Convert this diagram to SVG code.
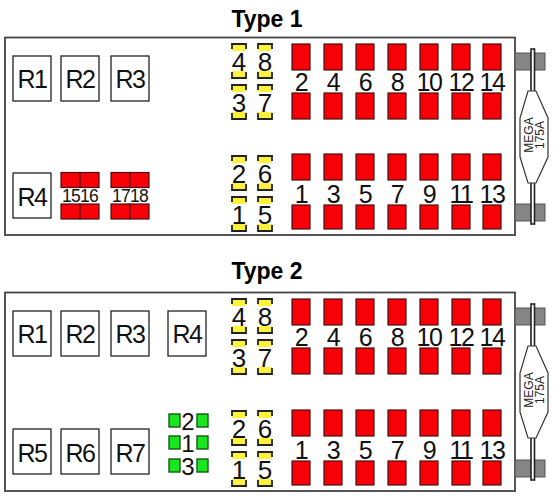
<svg xmlns="http://www.w3.org/2000/svg" width="555" height="498" viewBox="0 0 555 498">
<style>
text{font-family:"Liberation Sans",Arial,sans-serif;fill:#111;text-anchor:middle}
.title{font-size:23px;font-weight:bold;fill:#000}
.box{fill:#fff;stroke:#444;stroke-width:1.8}
.relay{fill:#fff;stroke:#222;stroke-width:1.3}
.rl{font-size:25px;letter-spacing:-1.5px}
.n{font-size:25px;letter-spacing:-1.5px}
.y{font-size:26px}
.s{font-size:17.5px;letter-spacing:-.8px}
.g{font-size:24px}
.red{fill:#f80008;stroke:#4a1010;stroke-width:1.2}
.grn{fill:#19e61e;stroke:#155a15;stroke-width:1.4}
.yel{fill:#fff23c}
.brk{fill:none;stroke:#222;stroke-width:1.8}
.gray{fill:#858585;stroke:#555;stroke-width:1}
.bar{fill:#fff;stroke:#222;stroke-width:1.6}
.body{fill:#fff;stroke:#333;stroke-width:1.2}
.m{font-size:12px;fill:#222}
</style>
<defs>
<rect id="r" class="red" width="18" height="26"/>
<rect id="r2" class="red" width="18" height="24"/>
<rect id="q" class="red" width="19" height="15"/>
<g id="yt"><rect class="yel" x="1" y="1" width="14" height="7"/><path class="brk" d="M1 6V1H15V6"/></g>
<g id="yb"><rect class="yel" x="1" y="0" width="14" height="7"/><path class="brk" d="M1 1V7H15V1"/></g>
<g id="yf"><use href="#yt"/><use href="#yb" y="28"/></g>
<g id="gr"><rect class="grn" x="0" y="0" width="11" height="13"/><rect class="grn" x="28" y="0" width="11" height="13"/></g>
<g id="mega"><rect class="gray" x="515" y="0" width="30" height="17"/></g>
</defs>

<g id="title-1"><text class="title" x="267" y="27">Type 1</text></g>
<g id="title-2"><text class="title" x="267" y="279">Type 2</text></g>

<g id="panel-1"><rect class="box" x="5" y="37.500" width="510" height="197.500"/></g>
<g id="panel-2"><rect class="box" x="5" y="292.500" width="510" height="198.500"/></g>

<g id="t1-R1"><rect class="relay" x="13" y="56" width="38" height="45"/><text class="rl" x="32" y="88">R1</text></g>
<g id="t1-R2"><rect class="relay" x="61" y="56" width="38" height="45"/><text class="rl" x="80" y="88">R2</text></g>
<g id="t1-R3"><rect class="relay" x="111" y="56" width="38" height="45"/><text class="rl" x="130" y="88">R3</text></g>
<g id="t1-R4"><rect class="relay" x="13" y="173" width="38" height="45"/><text class="rl" x="32" y="206">R4</text></g>

<g id="t1-f15-16"><use href="#q" x="61" y="172.500"/><use href="#q" x="80" y="172.500"/><use href="#q" x="61" y="204"/><use href="#q" x="80" y="204"/><text class="s" x="71" y="202">15</text><text class="s" x="89" y="202">16</text></g>
<g id="t1-f17-18"><use href="#q" x="111" y="172.500"/><use href="#q" x="130" y="172.500"/><use href="#q" x="111" y="204"/><use href="#q" x="130" y="204"/><text class="s" x="121" y="202">17</text><text class="s" x="139" y="202">18</text></g>

<g id="t1-y4"><use href="#yf" x="231" y="43"/><text class="y" x="239" y="71">4</text></g>
<g id="t1-y8"><use href="#yf" x="257" y="43"/><text class="y" x="265" y="71">8</text></g>
<g id="t1-y3"><use href="#yf" x="231" y="84"/><text class="y" x="239" y="112">3</text></g>
<g id="t1-y7"><use href="#yf" x="257" y="84"/><text class="y" x="265" y="112">7</text></g>
<g id="t1-y2"><use href="#yf" x="231" y="155"/><text class="y" x="239" y="183">2</text></g>
<g id="t1-y6"><use href="#yf" x="257" y="155"/><text class="y" x="265" y="183">6</text></g>
<g id="t1-y1"><use href="#yf" x="231" y="196"/><text class="y" x="239" y="224">1</text></g>
<g id="t1-y5"><use href="#yf" x="257" y="196"/><text class="y" x="265" y="224">5</text></g>

<g id="t1-f2"><use href="#r" x="292" y="44"/><use href="#r" x="292" y="93"/><text class="n" x="301" y="90.500">2</text></g>
<g id="t1-f4"><use href="#r" x="324" y="44"/><use href="#r" x="324" y="93"/><text class="n" x="333" y="90.500">4</text></g>
<g id="t1-f6"><use href="#r" x="356" y="44"/><use href="#r" x="356" y="93"/><text class="n" x="365" y="90.500">6</text></g>
<g id="t1-f8"><use href="#r" x="388" y="44"/><use href="#r" x="388" y="93"/><text class="n" x="397" y="90.500">8</text></g>
<g id="t1-f10"><use href="#r" x="420" y="44"/><use href="#r" x="420" y="93"/><text class="n" x="429" y="90.500">10</text></g>
<g id="t1-f12"><use href="#r" x="452" y="44"/><use href="#r" x="452" y="93"/><text class="n" x="461" y="90.500">12</text></g>
<g id="t1-f14"><use href="#r" x="483" y="44"/><use href="#r" x="483" y="93"/><text class="n" x="492" y="90.500">14</text></g>

<g id="t1-f1"><use href="#r" x="292" y="154"/><use href="#r2" x="292" y="205"/><text class="n" x="301" y="203">1</text></g>
<g id="t1-f3"><use href="#r" x="324" y="154"/><use href="#r2" x="324" y="205"/><text class="n" x="333" y="203">3</text></g>
<g id="t1-f5"><use href="#r" x="356" y="154"/><use href="#r2" x="356" y="205"/><text class="n" x="365" y="203">5</text></g>
<g id="t1-f7"><use href="#r" x="388" y="154"/><use href="#r2" x="388" y="205"/><text class="n" x="397" y="203">7</text></g>
<g id="t1-f9"><use href="#r" x="420" y="154"/><use href="#r2" x="420" y="205"/><text class="n" x="429" y="203">9</text></g>
<g id="t1-f11"><use href="#r" x="452" y="154"/><use href="#r2" x="452" y="205"/><text class="n" x="461" y="203">11</text></g>
<g id="t1-f13"><use href="#r" x="483" y="154"/><use href="#r2" x="483" y="205"/><text class="n" x="492" y="203">13</text></g>

<g id="t1-mega">
<use href="#mega" y="53"/><use href="#mega" y="204"/>
<rect class="bar" x="531" y="49" width="3.500" height="175"/>
<path class="body" d="M528 91H536L548 118V157L536 183H528L520 157V118Z"/>
<text class="m" transform="translate(532 135) rotate(-90)"><tspan x="0" y="1">MEGA</tspan><tspan x="0" y="12">175A</tspan></text>
</g>

<g id="t2-R1"><rect class="relay" x="13" y="311" width="38" height="45"/><text class="rl" x="32" y="343">R1</text></g>
<g id="t2-R2"><rect class="relay" x="61" y="311" width="38" height="45"/><text class="rl" x="80" y="343">R2</text></g>
<g id="t2-R3"><rect class="relay" x="111" y="311" width="38" height="45"/><text class="rl" x="130" y="343">R3</text></g>
<g id="t2-R4"><rect class="relay" x="168" y="311" width="38" height="45"/><text class="rl" x="187" y="343">R4</text></g>
<g id="t2-R5"><rect class="relay" x="13" y="429" width="38" height="45"/><text class="rl" x="32" y="462">R5</text></g>
<g id="t2-R6"><rect class="relay" x="61" y="429" width="38" height="45"/><text class="rl" x="80" y="462">R6</text></g>
<g id="t2-R7"><rect class="relay" x="111" y="429" width="38" height="45"/><text class="rl" x="130" y="462">R7</text></g>

<g id="t2-g2"><use href="#gr" x="169" y="414"/><text class="g" x="188" y="430">2</text></g>
<g id="t2-g1"><use href="#gr" x="169" y="436"/><text class="g" x="188" y="452">1</text></g>
<g id="t2-g3"><use href="#gr" x="169" y="459"/><text class="g" x="188" y="475">3</text></g>

<g id="t2-y4"><use href="#yf" x="231" y="298"/><text class="y" x="239" y="326">4</text></g>
<g id="t2-y8"><use href="#yf" x="257" y="298"/><text class="y" x="265" y="326">8</text></g>
<g id="t2-y3"><use href="#yf" x="231" y="339"/><text class="y" x="239" y="367">3</text></g>
<g id="t2-y7"><use href="#yf" x="257" y="339"/><text class="y" x="265" y="367">7</text></g>
<g id="t2-y2"><use href="#yf" x="231" y="410"/><text class="y" x="239" y="438">2</text></g>
<g id="t2-y6"><use href="#yf" x="257" y="410"/><text class="y" x="265" y="438">6</text></g>
<g id="t2-y1"><use href="#yf" x="231" y="451"/><text class="y" x="239" y="479">1</text></g>
<g id="t2-y5"><use href="#yf" x="257" y="451"/><text class="y" x="265" y="479">5</text></g>

<g id="t2-f2"><use href="#r" x="292" y="299"/><use href="#r" x="292" y="348"/><text class="n" x="301" y="345.500">2</text></g>
<g id="t2-f4"><use href="#r" x="324" y="299"/><use href="#r" x="324" y="348"/><text class="n" x="333" y="345.500">4</text></g>
<g id="t2-f6"><use href="#r" x="356" y="299"/><use href="#r" x="356" y="348"/><text class="n" x="365" y="345.500">6</text></g>
<g id="t2-f8"><use href="#r" x="388" y="299"/><use href="#r" x="388" y="348"/><text class="n" x="397" y="345.500">8</text></g>
<g id="t2-f10"><use href="#r" x="420" y="299"/><use href="#r" x="420" y="348"/><text class="n" x="429" y="345.500">10</text></g>
<g id="t2-f12"><use href="#r" x="452" y="299"/><use href="#r" x="452" y="348"/><text class="n" x="461" y="345.500">12</text></g>
<g id="t2-f14"><use href="#r" x="483" y="299"/><use href="#r" x="483" y="348"/><text class="n" x="492" y="345.500">14</text></g>

<g id="t2-f1"><use href="#r" x="292" y="410"/><use href="#r2" x="292" y="461"/><text class="n" x="301" y="458.500">1</text></g>
<g id="t2-f3"><use href="#r" x="324" y="410"/><use href="#r2" x="324" y="461"/><text class="n" x="333" y="458.500">3</text></g>
<g id="t2-f5"><use href="#r" x="356" y="410"/><use href="#r2" x="356" y="461"/><text class="n" x="365" y="458.500">5</text></g>
<g id="t2-f7"><use href="#r" x="388" y="410"/><use href="#r2" x="388" y="461"/><text class="n" x="397" y="458.500">7</text></g>
<g id="t2-f9"><use href="#r" x="420" y="410"/><use href="#r2" x="420" y="461"/><text class="n" x="429" y="458.500">9</text></g>
<g id="t2-f11"><use href="#r" x="452" y="410"/><use href="#r2" x="452" y="461"/><text class="n" x="461" y="458.500">11</text></g>
<g id="t2-f13"><use href="#r" x="483" y="410"/><use href="#r2" x="483" y="461"/><text class="n" x="492" y="458.500">13</text></g>

<g id="t2-mega">
<use href="#mega" y="308"/><use href="#mega" y="460"/>
<rect class="bar" x="531" y="304" width="3.500" height="176"/>
<path class="body" d="M528 346H536L548 373V412L536 438H528L520 412V373Z"/>
<text class="m" transform="translate(532 390) rotate(-90)"><tspan x="0" y="1">MEGA</tspan><tspan x="0" y="12">175A</tspan></text>
</g>
</svg>
